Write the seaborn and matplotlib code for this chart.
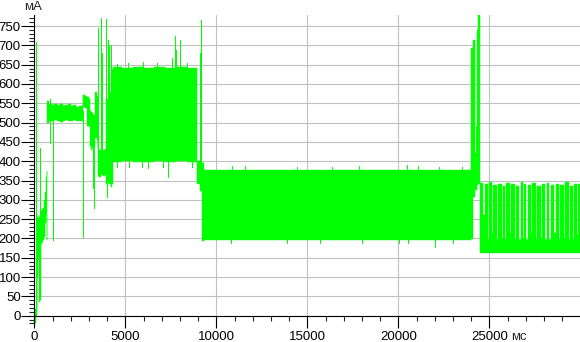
import numpy as np
import pandas as pd
import matplotlib
matplotlib.use("Agg")
import matplotlib.pyplot as plt
import seaborn as sns

# ---------------- data: time in ms, current in mA (min / max envelope) -------------
start_t  = [0, 40, 90, 130, 180, 230, 280, 330, 380, 430, 480, 530, 580, 630, 680, 720]
start_lo = [-22, -18, 0, 100, 110, 150, 35, 40, 185, 190, 195, 205, 240, 260, 195, 195]
start_hi = [15, 18, 20, 255, 260, 250, 255, 260, 270, 275, 280, 300, 320, 360, 375, 375]

a_t  = [720, 800, 950, 1100, 1250, 1400, 1550, 1700, 1850, 2000, 2150, 2300, 2450, 2600, 2700]
a_lo = [500, 505, 503, 506, 504, 502, 505, 507, 503, 505, 506, 504, 503, 505, 505]
a_hi = [556, 548, 546, 549, 545, 547, 544, 546, 548, 543, 545, 541, 543, 542, 542]

mid_t  = [2700, 2800, 2900, 3000, 3060, 3120, 3180, 3240, 3300, 3360, 3420, 3480,
          3560, 3640, 3720, 3800, 3880, 3960, 4040, 4120, 4200, 4280, 4330]
mid_lo = [540, 538, 492, 490, 440, 430, 435, 445, 440, 460, 455, 362,
          360, 365, 368, 362, 365, 340, 345, 340, 334, 340, 340]
mid_hi = [572, 568, 565, 560, 530, 528, 525, 520, 520, 580, 570, 430,
          428, 425, 430, 428, 432, 560, 550, 580, 620, 640, 640]

b_t  = [4330, 4800, 5400, 6000, 6600, 7200, 7800, 8400, 8960]
b_lo = [398, 400, 397, 399, 401, 398, 400, 398, 398]
b_hi = [643, 642, 644, 641, 643, 642, 644, 641, 641]

bc_t  = [8960, 9100, 9210]
bc_lo = [340, 322, 322]
bc_hi = [400, 400, 400]

c_t  = [9210, 9300, 12000, 15000, 18000, 21000, 23980]
c_lo = [193, 195, 196, 195, 196, 195, 195]
c_hi = [395, 378, 377, 378, 377, 377, 377]

peak_t  = [23980, 24090, 24220, 24330, 24400, 24470]
peak_lo = [198, 308, 325, 339, 340, 340]
peak_hi = [692, 714, 420, 740, 781, 781]

# last phase: low base band with pulses separated by short dips
d_t_start, d_t_end = 24470, 29980
d_base_lo, d_base_hi = 162, 195
d_gap_t = [24709, 24966, 25186, 25440, 25714, 25900, 26154, 26450, 26687, 26870, 27072,
           27330, 27604, 27857, 28115, 28335, 28610, 28846, 29121, 29396, 29615, 29835]
d_gap_floor = [260, 195, 213, 195, 200, 195, 213, 195, 195, 200, 195,
               213, 195, 200, 195, 195, 213, 195, 200, 195, 195, 210]
d_pulse_top = [343, 340, 345, 338, 342, 336, 344, 340, 337, 345, 341, 338,
               343, 336, 340, 344, 338, 342, 339, 345, 337, 341, 340]

# isolated spikes (time, from, to)
spike_t  = [90, 330, 860, 1040, 2690, 3210, 3280, 3480, 3680, 3700, 3960, 4000,
            4060, 4130, 4200, 7363, 7548, 7750, 7810, 8005, 9105, 9176, 24250]
spike_lo = [0, 150, 447, 197, 205, 330, 279, 400, 400, 400, 380, 308,
            400, 400, 400, 360, 600, 600, 600, 600, 380, 380, 400]
spike_hi = [709, 434, 510, 505, 530, 450, 460, 745, 772, 680, 767, 400,
            714, 701, 700, 420, 666, 724, 688, 715, 679, 765, 490]

# small needles on block edges
edge_t  = [860, 4563, 5165, 5989, 6722, 8370, 4526, 5203, 5897, 6264, 7088, 8645,
           9286, 10879, 11575, 14415, 16338, 17859, 20460, 21101, 22253, 23500,
           10789, 13866, 15698, 17988, 20057, 20551, 22016, 23020]
edge_lo = [545, 640, 640, 640, 640, 640, 386, 384, 386, 383, 385, 386,
           375, 375, 375, 375, 375, 375, 375, 375, 375, 375,
           187, 187, 187, 187, 187, 187, 178, 188]
edge_hi = [561, 652, 655, 658, 655, 655, 400, 400, 400, 400, 400, 400,
           388, 388, 387, 386, 386, 387, 390, 388, 386, 385,
           197, 197, 197, 197, 197, 197, 197, 197]

x_major = [0, 5000, 10000, 15000, 20000, 25000]
y_major = list(range(0, 751, 50))

GREEN = "#00ff00"

# ---------------- figure -------------------------------------------------------
sns.set_style("white")
plt.rcParams["font.family"] = ["Liberation Sans", "DejaVu Sans"]

W, H = 580, 342
fig = plt.figure(figsize=(W / 100, H / 100), dpi=100)
ax = fig.add_axes([34.3 / W, 17 / H, 545.7 / W, 310 / H])


def band(t, lo, hi):
    ax.fill_between(t, lo, hi, step="post", facecolor=GREEN, edgecolor=GREEN,
                    lw=0.3, antialiased=False, zorder=2)


for t, lo, hi in [(start_t, start_lo, start_hi), (a_t, a_lo, a_hi),
                  (mid_t, mid_lo, mid_hi), (b_t, b_lo, b_hi),
                  (bc_t, bc_lo, bc_hi), (c_t, c_lo, c_hi),
                  (peak_t, peak_lo, peak_hi)]:
    band(t, lo, hi)

# last phase
band([d_t_start, d_t_end], [d_base_lo] * 2, [d_base_hi] * 2)
gap_w = 70
dt = [d_t_start]
dh = [d_pulse_top[0]]
for g, fl, top in zip(d_gap_t, d_gap_floor, d_pulse_top[1:]):
    dt += [g - gap_w / 2, g + gap_w / 2]
    dh += [fl, top]
dt.append(d_t_end)
dh.append(dh[-1])
band(dt, [d_base_hi] * len(dt), dh)

# spikes and needles via seaborn
all_t = spike_t + edge_t
all_lo = spike_lo + edge_lo
all_hi = spike_hi + edge_hi
spk = pd.DataFrame({
    "t": np.repeat(all_t, 2),
    "mA": np.column_stack([all_lo, all_hi]).ravel(),
    "id": np.repeat(np.arange(len(all_t)), 2),
})
sns.lineplot(data=spk, x="t", y="mA", units="id", estimator=None, sort=False,
             color=GREEN, lw=0.6, antialiased=False, ax=ax, legend=False, zorder=3)
ax.set_xlabel("")
ax.set_ylabel("")

# ---------------- axes styling --------------------------------------------------
ax.set_xlim(0, 29980)
ax.set_ylim(-24, 778.5)
ax.spines["top"].set_visible(False)
ax.spines["right"].set_visible(False)
ax.spines["bottom"].set_position(("data", 0))
for s in ("left", "bottom"):
    ax.spines[s].set_color("black")
    ax.spines[s].set_linewidth(0.8)
    ax.spines[s].set_zorder(4)

ax.set_xticks(x_major)
ax.set_xticklabels([str(v) for v in x_major])
ax.set_xticks(range(0, 30000, 1000), minor=True)
ax.set_yticks(y_major)
ax.set_yticklabels([str(v) for v in y_major])
ax.set_yticks(range(-20, 779, 10), minor=True)

ax.tick_params(axis="y", which="major", length=9.4, width=0.8, pad=0.3,
               direction="out", left=True, labelsize=9.5, colors="black")
ax.tick_params(axis="y", which="minor", length=3.6, width=0.8, direction="out", left=True)
ax.tick_params(axis="x", which="major", length=8.4, width=0.8, pad=2.5,
               direction="out", bottom=True, labelsize=9.5, colors="black")
ax.tick_params(axis="x", which="minor", length=3.6, width=0.8, direction="out", bottom=True)

ax.grid(True, which="major", color="#c0c0c0", lw=0.8)
ax.set_axisbelow(True)

fig.text(33.3 / W, 1 - 10 / H, "мА", ha="center", va="baseline", fontsize=9.5)
fig.text(519 / W, 1 - 340.5 / H, "мс", ha="center", va="baseline", fontsize=9.5)

fig.savefig("out.png", dpi=100)
